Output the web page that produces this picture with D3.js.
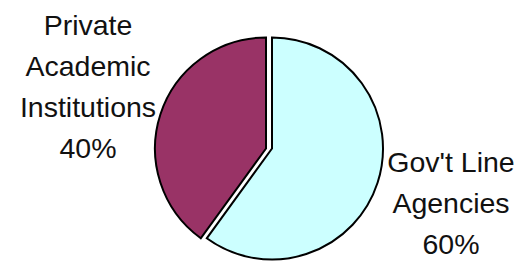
<!DOCTYPE html>
<html lang="en">
<head>
  <meta charset="utf-8">
  <title>Pie</title>
  <script src="https://d3js.org/d3.v7.min.js"></script>
  <style>
    body { margin: 0; background: #fff; }
    #chart text {
      font-family: "Liberation Sans", Arial, sans-serif;
      font-size: 28.5px;
      fill: #111;
      text-anchor: middle;
    }
  </style>
</head>
<body>
  <div id="chart"></div>
  <script>
    "use strict"

    // data
    var categories = ["Gov't Line Agencies", "Private Academic Institutions"];
    var values = [60, 40];
    var labelLines = [["Gov't Line", "Agencies", "60%"], ["Private", "Academic", "Institutions", "40%"]];
    var colors = ["#ccffff", "#993366"];

    var width = 519, height = 261;
    var cx = 272, cy = 148.5, radius = 111;
    var explode = [0, 6];          // px the slice is pulled out
    var labelPos = [[451, 172], [88, 35]]; // first baseline of each label
    var lineStep = 41;

    var svg = d3.select('#chart')
      .append('svg')
        .attr('width', width)
        .attr('height', height);

    var g = svg.append('g')
      .attr('transform', 'translate(' + cx + ',' + cy + ')');

    var dados = categories.map((c, i) => ({ nome: c, valor: values[i], i: i }));

    var pie = d3.pie()
      .sort(null)
      .value(d => d.valor);

    var arc = d3.arc()
      .innerRadius(0)
      .outerRadius(radius);

    g.selectAll('path')
      .data(pie(dados))
      .enter()
        .append('path')
          .attr('d', arc)
          .attr('transform', d => 'translate(' + (-explode[d.data.i]) + ',0)')
          .attr('fill', d => colors[d.data.i])
          .attr('stroke', '#000')
          .attr('stroke-width', 2)
          .attr('stroke-linejoin', 'miter');

    // labels
    dados.forEach(function(d) {
      var t = svg.append('text')
        .attr('x', labelPos[d.i][0])
        .attr('y', labelPos[d.i][1]);
      labelLines[d.i].forEach(function(line, k) {
        t.append('tspan')
          .attr('x', labelPos[d.i][0])
          .attr('dy', k == 0 ? 0 : lineStep)
          .text(line);
      });
    });
  </script>
</body>
</html>
